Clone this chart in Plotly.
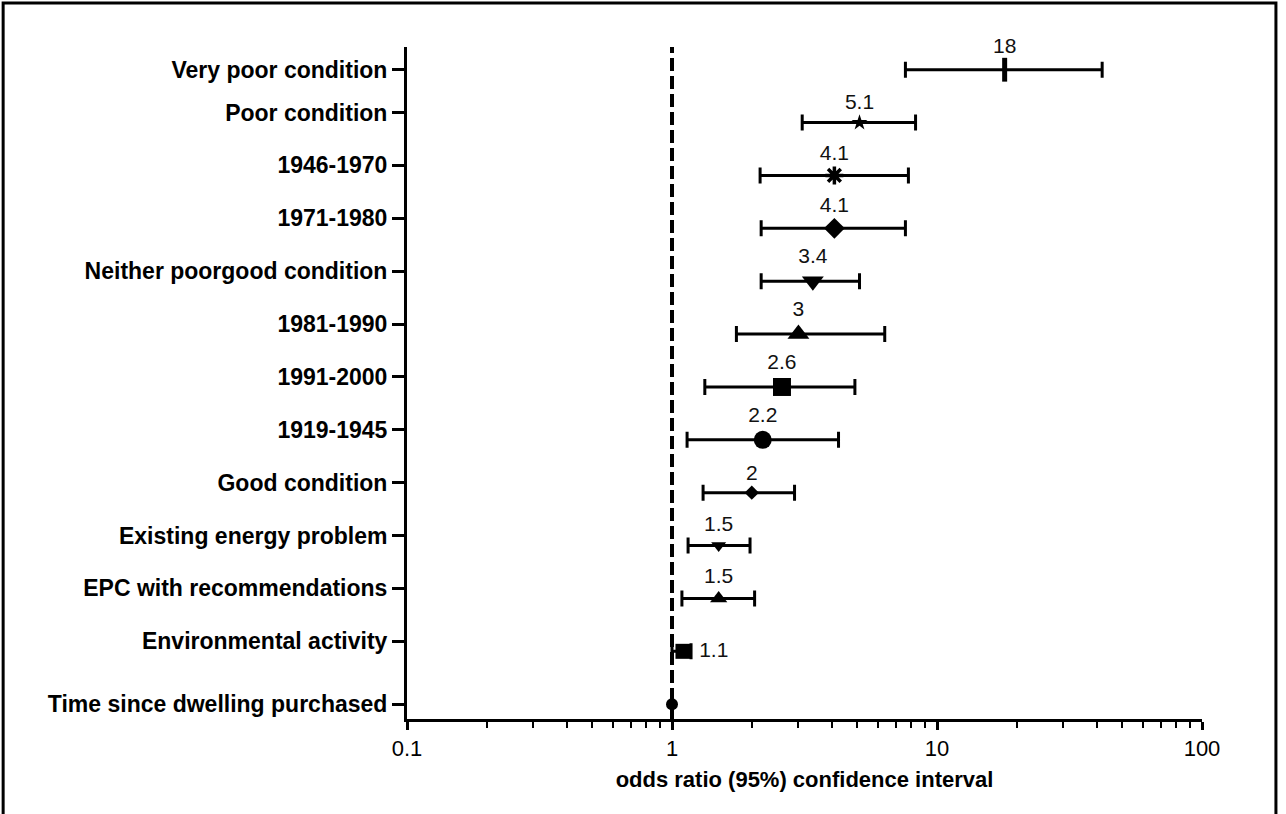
import math
import plotly.graph_objects as go

# Rows listed top to bottom
categories = [
    "Very poor condition", "Poor condition", "1946-1970", "1971-1980",
    "Neither poorgood condition", "1981-1990", "1991-2000", "1919-1945",
    "Good condition", "Existing energy problem", "EPC with recommendations",
    "Environmental activity", "Time since dwelling purchased",
]
odds_ratio = [18, 5.1, 4.1, 4.1, 3.4, 3, 2.6, 2.2, 2, 1.5, 1.5, 1.1, 1.0]
ci_low = [7.6, 3.1, 2.15, 2.17, 2.17, 1.75, 1.33, 1.14, 1.31, 1.15, 1.09, 1.0, None]
ci_high = [42, 8.3, 7.8, 7.6, 5.1, 6.35, 4.9, 4.25, 2.9, 1.97, 2.05, 1.18, None]
value_labels = ["18", "5.1", "4.1", "4.1", "3.4", "3", "2.6", "2.2", "2", "1.5", "1.5", " 1.1", ""]

symbols = ["line-ns", "star", "asterisk-open", "diamond", "triangle-down", "triangle-up",
           "square", "circle", "diamond", "triangle-down", "triangle-up", "square", "circle"]
sizes = [17, 12, 15, 16, 19, 19, 18, 18, 11, 13, 15, 15, 12]
line_widths = [5, 0, 3.5, 0, 0, 0, 0, 0, 0, 0, 0, 0, 0]
text_pos = ["top center"] * 11 + ["middle right", "top center"]

n = len(categories)
ypos = [n - 1 - i for i in range(n)]
# category labels sit slightly above their rows, except the first and last
tick_pos = [y if (y == 0 or y == n - 1) else y + 0.19 for y in ypos]

err_plus = [(h - v) if h is not None else float("nan") for v, h in zip(odds_ratio, ci_high)]
err_minus = [(v - l) if l is not None else float("nan") for v, l in zip(odds_ratio, ci_low)]

fig = go.Figure()
fig.add_trace(go.Scatter(
    x=odds_ratio, y=ypos, mode="markers+text",
    text=value_labels, textposition=text_pos,
    textfont=dict(family="Liberation Sans, Arial", size=21, color="#111"),
    marker=dict(symbol=symbols, size=sizes, color="black", opacity=1,
                line=dict(color="black", width=line_widths)),
    error_x=dict(type="data", symmetric=False, array=err_plus, arrayminus=err_minus,
                 color="black", thickness=3, width=8),
    showlegend=False, cliponaxis=False,
))

# reference line at odds ratio 1
fig.add_shape(type="line", x0=1, x1=1, xref="x", y0=0, y1=1, yref="paper",
              line=dict(color="black", width=4, dash="13px,5px"), layer="below")

# outer frame
fig.add_shape(type="rect", xref="paper", yref="paper",
              x0=-0.508, x1=1.093, y0=-0.2, y1=1.0655,
              line=dict(color="black", width=3), fillcolor="rgba(0,0,0,0)")

minor_vals = [m * 10 ** e for e in (-1, 0, 1) for m in range(2, 10)]

fig.update_xaxes(
    type="log", range=[-1, 2],
    tickvals=[0.1, 1, 10, 100], ticktext=["0.1", "1", "10", "100"],
    ticks="outside", ticklen=8, tickwidth=3, tickcolor="black",
    minor=dict(tickmode="array", tickvals=minor_vals, ticks="outside",
               ticklen=6, tickwidth=2, tickcolor="black"),
    tickfont=dict(family="Liberation Sans, Arial", size=22, color="black"),
    showline=True, linewidth=3, linecolor="black",
    showgrid=False, zeroline=False,
    title=dict(text="odds ratio (95%) confidence interval", standoff=12,
               font=dict(family="Liberation Sans, Arial", size=22, color="black", weight="bold")),
)
fig.update_yaxes(
    range=[-0.28, 12.43],
    tickvals=tick_pos, ticktext=categories,
    ticks="outside", ticklen=12, tickwidth=3, tickcolor="black",
    tickfont=dict(family="Liberation Sans, Arial", size=23, color="black", weight="bold"),
    showline=True, linewidth=3, linecolor="black",
    showgrid=False, zeroline=False,
)

fig.update_layout(
    width=1286, height=814,
    margin=dict(l=407, r=84, t=47, b=95, autoexpand=False),
    plot_bgcolor="white", paper_bgcolor="white",
)

fig.write_html("out.html")
